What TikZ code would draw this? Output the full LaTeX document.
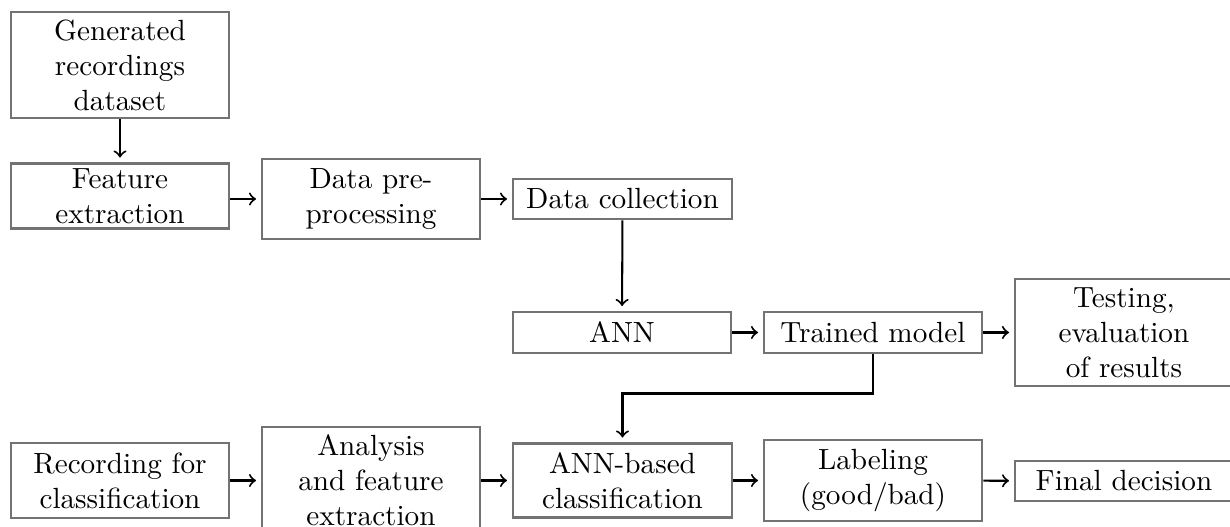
\documentclass[tikz,border=0pt]{standalone}
\begin{document}
\begin{tikzpicture}[x=0.3425pt,y=-0.3425pt,
  bx/.style 2 args={draw=black!55, line width=0.9pt, align=center, inner sep=0pt,
    minimum width=#1*0.3425pt, minimum height=#2*0.3425pt},
  arr/.style={->, line width=0.7pt, shorten >=1.6pt}]
\useasboundingbox (0,0) rectangle (1230,527);
\node[bx={218}{106}] (gen) at (120,65) {Generated\\recordings\\dataset};
\node[bx={218}{65}] (feat) at (120,196) {Feature\\extraction};
\node[bx={218}{80}] (pre) at (371,199) {Data pre-\\processing};
\node[bx={219}{40}] (coll) at (622.5,199) {Data collection};
\node[bx={218}{41}] (ann) at (622,332.5) {ANN};
\node[bx={218}{41}] (trained) at (873,332.5) {Trained model};
\node[bx={218}{107}] (test) at (1124,332.5) {Testing,\\evaluation\\of results};
\node[bx={218}{75}] (rec) at (120,480.5) {Recording for\\classification};
\node[bx={218}{107}] (anal) at (371,480.5) {Analysis\\and feature\\extraction};
\node[bx={219}{74}] (annb) at (622.5,480.5) {ANN-based\\classification};
\node[bx={218}{81}] (label) at (873,480.5) {Labeling\\(good/bad)};
\node[bx={218}{40}] (final) at (1124,481) {Final decision};
\coordinate (bend) at (873,393.5);
\draw[arr] (gen) -- (feat);
\draw[arr] (feat.east |- pre.west) -- (pre.west);
\draw[arr] (pre) -- (coll);
\draw[arr] (coll) -- (ann);
\draw[arr] (ann) -- (trained);
\draw[arr] (trained) -- (test);
\draw[arr] (trained.south) -- (bend) -| (annb.north);
\draw[arr] (rec) -- (anal);
\draw[arr] (anal) -- (annb);
\draw[arr] (annb) -- (label);
\draw[arr] (label) -- (final);
\end{tikzpicture}
\end{document}
